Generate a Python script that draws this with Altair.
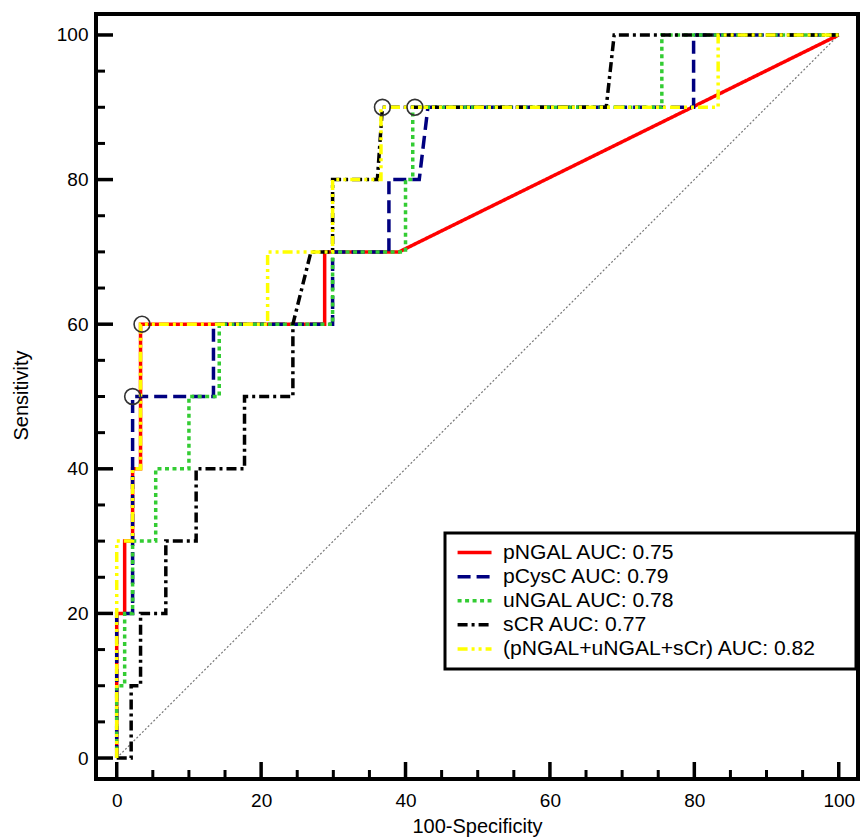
import altair as alt
import pandas as pd

# ---- data ----
names = ["pNGAL AUC: 0.75", "pCysC AUC: 0.79", "uNGAL AUC: 0.78",
         "sCR AUC: 0.77", "(pNGAL+uNGAL+sCr) AUC: 0.82"]
colors = ["#FF0000", "#000080", "#33CC33", "#000000", "#FFFF00"]
dashes = [[1, 0], [13, 6], [4, 3.5], [10, 4, 3, 4], [10, 4, 3, 4, 3, 4]]

pngal_x = [0, 0, 1.1, 1.1, 2.2, 2.2, 3.3, 3.3, 28.8, 28.8, 39.1, 100]
pngal_y = [0, 20, 20, 30, 30, 40, 40, 60, 60, 70, 70, 100]

pcysc_x = [0, 0, 2.2, 2.2, 13.4, 13.4, 29.9, 29.9, 37.7, 37.7, 41.9, 43.1, 79.9, 79.9, 100]
pcysc_y = [0, 20, 20, 50, 50, 60, 60, 70, 70, 80, 80, 90, 90, 100, 100]

ungal_x = [0, 0, 1.1, 1.1, 2.2, 2.2, 5.4, 5.4, 10.0, 10.0, 14.2, 14.2, 29.9, 29.9,
           40.0, 40.0, 41.0, 41.0, 75.5, 75.5, 100]
ungal_y = [0, 10, 10, 20, 20, 30, 30, 40, 40, 50, 50, 60, 60, 70,
           70, 80, 80, 90, 90, 100, 100]

scr_x = [0, 2.0, 2.0, 3.3, 3.3, 6.8, 6.8, 11.0, 11.0, 17.7, 17.7, 24.4, 24.4, 26.9,
         29.9, 29.9, 36.1, 36.8, 67.8, 68.9, 100]
scr_y = [0, 0, 10, 10, 20, 20, 30, 30, 40, 40, 50, 50, 60, 70,
         70, 80, 80, 90, 90, 100, 100]

combo_x = [0, 0, 2.2, 2.2, 3.3, 3.3, 20.9, 20.9, 29.9, 29.9, 36.6, 36.6, 83.3, 83.3, 100]
combo_y = [0, 30, 30, 40, 40, 60, 60, 70, 70, 80, 80, 90, 90, 100, 100]

circle_x = [3.5, 2.2, 36.8, 41.3]
circle_y = [60, 50, 90, 90]

diag_x = [0, 100]
diag_y = [0, 100]

major_ticks = [0, 20, 40, 60, 80, 100]
minor_ticks = [5, 10, 15, 25, 30, 35, 45, 50, 55, 65, 70, 75, 85, 90, 95]

# ---- tables ----
rows = []
for name, xs, ys in zip(names, [pngal_x, pcysc_x, ungal_x, scr_x, combo_x],
                        [pngal_y, pcysc_y, ungal_y, scr_y, combo_y]):
    for i, (a, b) in enumerate(zip(xs, ys)):
        rows.append({"series": name, "x": a, "y": b, "i": i})
curves = pd.DataFrame(rows)
circles = pd.DataFrame({"x": circle_x, "y": circle_y})
diag = pd.DataFrame({"x": diag_x, "y": diag_y})

W, H = 762, 765
XS = alt.Scale(domain=[-2.87, 102.67], nice=False, zero=False)
YS = alt.Scale(domain=[-2.9, 102.9], nice=False, zero=False)
FONT = "Liberation Sans"

xaxis = alt.Axis(values=major_ticks, title="100-Specificity", labelPadding=12,
                 titleY=53, titleBaseline="alphabetic")
yaxis = alt.Axis(values=major_ticks, title="Sensitivity", labelPadding=8,
                 titleX=-69, titleY=381, titleAngle=-90,
                 titleBaseline="alphabetic", titleAlign="center")


def X(field="x"):
    return alt.X(f"{field}:Q", scale=XS, axis=xaxis)


def Y(field="y"):
    return alt.Y(f"{field}:Q", scale=YS, axis=yaxis)


legend = alt.Legend(title=None, orient="none", legendX=349, legendY=519,
                    symbolType="M-3,0H3", symbolSize=128, symbolStrokeWidth=3.5,
                    symbolOffset=10,
                    labelFontSize=21.1, labelOffset=18, rowPadding=2.1, padding=9,
                    labelLimit=600,
                    strokeColor="black", fillColor="white",
                    labelExpr="datum.label + '\u2800\u2800'")

color = alt.Color("series:N", scale=alt.Scale(domain=names, range=colors), legend=legend)
dash = alt.StrokeDash("series:N", scale=alt.Scale(domain=names, range=dashes), legend=legend)

diag_layer = alt.Chart(diag).mark_line(color="#777777", strokeWidth=1.2, strokeDash=[2, 2]).encode(
    x=X(), y=Y())

line_layers = []
for name in names:
    line_layers.append(
        alt.Chart(curves).transform_filter(alt.datum.series == name)
        .mark_line(strokeWidth=3.5)
        .encode(x=X(), y=Y(), color=color, strokeDash=dash, order="i:Q")
    )

circle_layer = alt.Chart(circles).mark_point(
    shape="circle", size=250, filled=False, stroke="#333333", strokeWidth=1.6, opacity=1
).encode(x=X(), y=Y())

xmaj = alt.Chart(pd.DataFrame({"x": major_ticks})).mark_rule(color="black", strokeWidth=3.5).encode(
    x=X(), y=alt.value(H), y2=alt.value(H - 17))
xmin = alt.Chart(pd.DataFrame({"x": minor_ticks})).mark_rule(color="black", strokeWidth=3).encode(
    x=X(), y=alt.value(H), y2=alt.value(H - 9))
ymaj = alt.Chart(pd.DataFrame({"y": major_ticks})).mark_rule(color="black", strokeWidth=3.5).encode(
    y=Y(), x=alt.value(0), x2=alt.value(17))
ymin = alt.Chart(pd.DataFrame({"y": minor_ticks})).mark_rule(color="black", strokeWidth=3).encode(
    y=Y(), x=alt.value(0), x2=alt.value(9))

chart = alt.layer(diag_layer, *line_layers, circle_layer, xmaj, xmin, ymaj, ymin).properties(
    width=W, height=H,
    autosize=alt.AutoSizeParams(type="none"),
    padding={"left": 96, "top": 14, "right": 3, "bottom": 60},
    background="white",
).configure(font=FONT).configure_view(
    stroke="black", strokeWidth=4
).configure_axis(
    domain=False, ticks=False, tickSize=0, grid=False,
    labelFont=FONT, labelFontSize=19, labelColor="black",
    titleFont=FONT, titleFontSize=20, titleFontWeight="normal", titleColor="black"
).configure_legend(
    strokeWidth=3, labelFont=FONT, labelColor="black"
)

chart.save("out.html", embed_options={"renderer": "svg", "actions": False})
